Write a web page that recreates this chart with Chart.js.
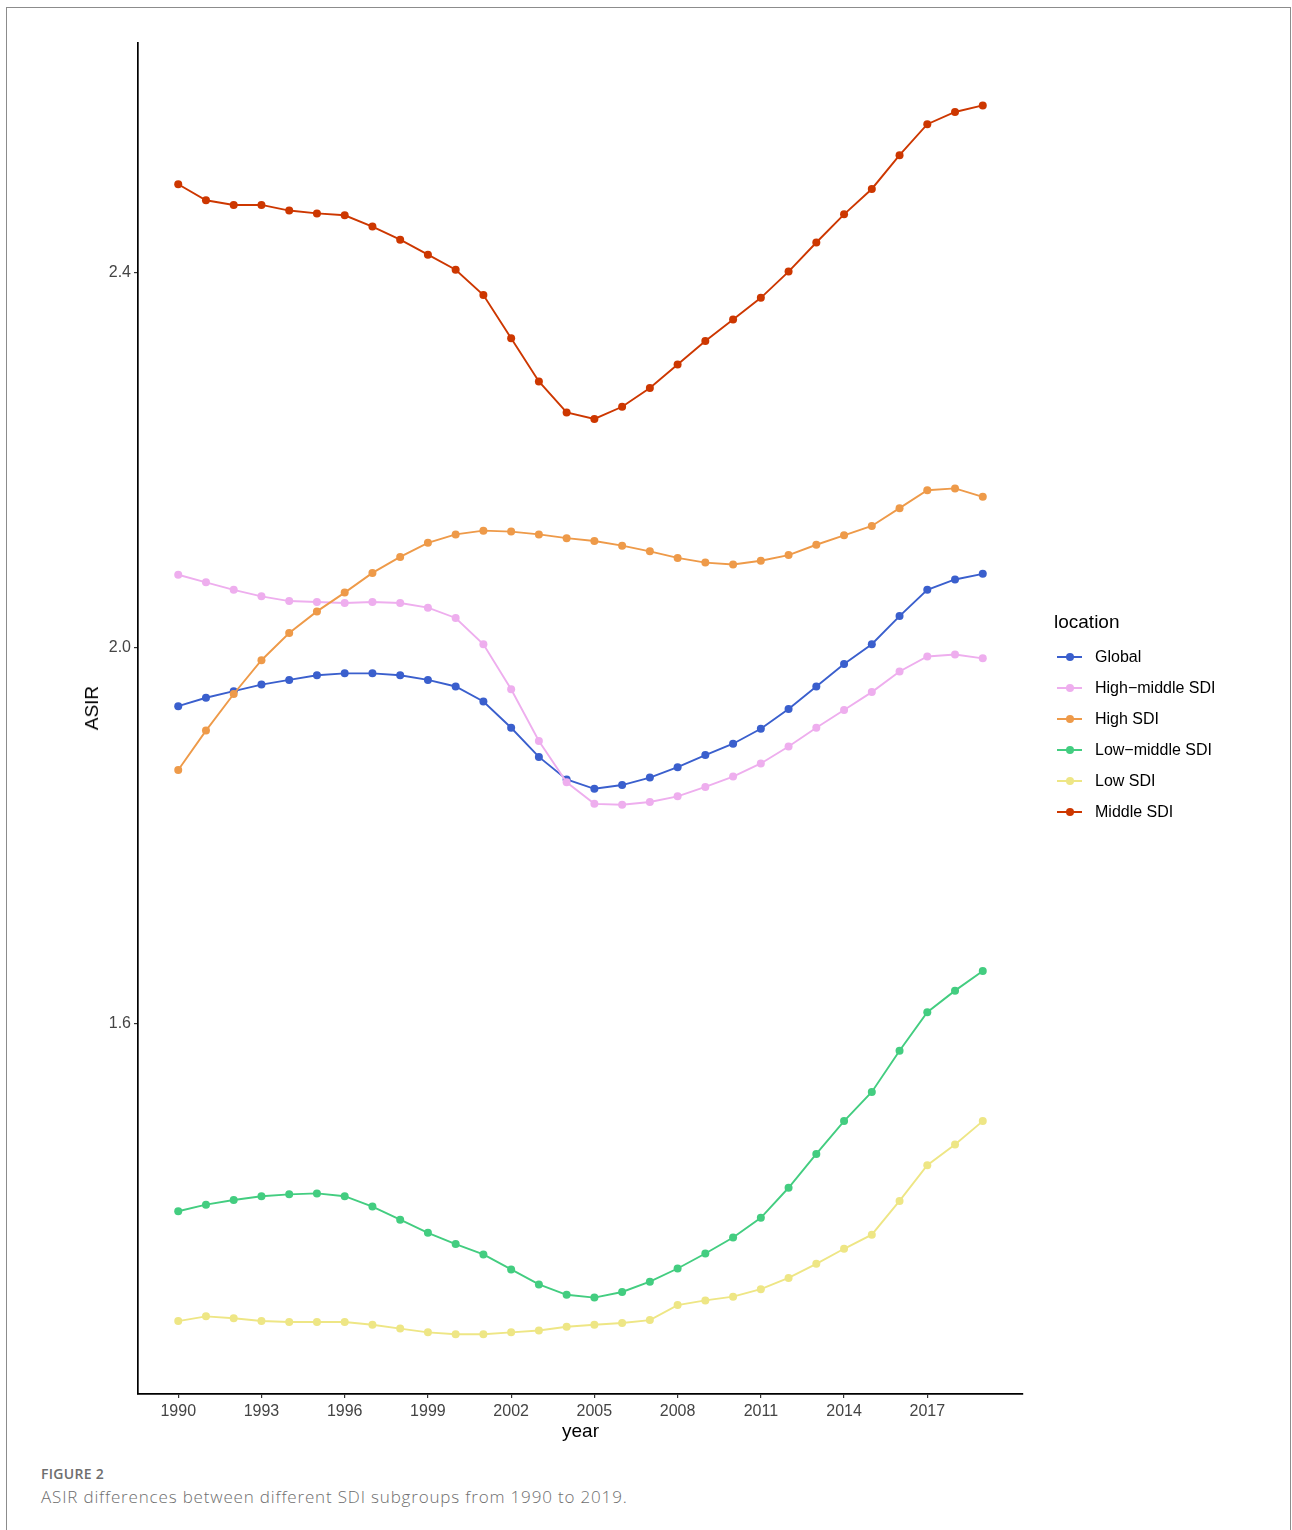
<!DOCTYPE html>
<html>
<head>
<meta charset="utf-8">
<script src="https://cdn.jsdelivr.net/npm/chart.js@4.4.1/dist/chart.umd.min.js"></script>
<style>
  html, body { margin: 0; padding: 0; background: #fff; overflow: hidden; }
  body { width: 1292px; height: 1530px; position: relative; }
  #frame { position: absolute; left: 6px; top: 7px; width: 1283px; height: 1600px; border: 1px solid #8c8c8c; box-sizing: content-box; }
  #chart { position: absolute; left: 0; top: 0; }
  .leg { position: absolute; font-family: "Liberation Sans", Arial, sans-serif; color: #000; white-space: nowrap; }
  .legtitle { font-size: 19px; }
  .legitem { font-size: 16px; height: 20px; line-height: 20px; }
  .legline { position: absolute; width: 25px; height: 2px; }
  .legdot { position: absolute; width: 8px; height: 8px; border-radius: 50%; }
  .cap { position: absolute; left: 41px; font-family: "Open Sans", sans-serif; color: #6e6e6e; white-space: nowrap; }
  #ytitle { position: absolute; left: 92px; top: 708px; transform: translate(-50%, -50%) rotate(-90deg); font-family: "Liberation Sans", Arial, sans-serif; font-size: 19px; color: #000; white-space: nowrap; line-height: 22px; }
</style>
</head>
<body>
<div id="frame"></div>
<canvas id="chart" width="1292" height="1460" style="width:1292px;height:1460px;"></canvas>
<div id="ytitle">ASIR</div>
<div id="legend"></div>
<div class="cap" style="top:1464px;font-size:14px;font-weight:600;letter-spacing:0.3px;">FIGURE 2</div>
<div class="cap" style="top:1485px;font-size:17px;font-weight:300;letter-spacing:0.83px;">ASIR differences between different SDI subgroups from 1990 to 2019.</div>
<script>
const years = [1990,1991,1992,1993,1994,1995,1996,1997,1998,1999,2000,2001,2002,2003,2004,2005,2006,2007,2008,2009,2010,2011,2012,2013,2014,2015,2016,2017,2018,2019];
const xTickYears = [1990,1993,1996,1999,2002,2005,2008,2011,2014,2017];
const yTickValues = [1.6, 2.0, 2.4];
const seriesNames = ["Global", "High\u2212middle SDI", "High SDI", "Low\u2212middle SDI", "Low SDI", "Middle SDI"];
const seriesColors = ["#3A5FCD", "#EEAEEE", "#EE9A49", "#43CD80", "#EEE685", "#CD3700"];

const globalVals = [1.938,1.947,1.954,1.961,1.966,1.971,1.973,1.973,1.971,1.966,1.959,1.943,1.915,1.884,1.860,1.850,1.854,1.862,1.873,1.886,1.898,1.914,1.935,1.959,1.983,2.004,2.034,2.062,2.073,2.079];
const highMiddleVals = [2.078,2.070,2.062,2.055,2.050,2.049,2.048,2.049,2.048,2.043,2.032,2.004,1.956,1.901,1.857,1.834,1.833,1.836,1.842,1.852,1.863,1.877,1.895,1.915,1.934,1.953,1.975,1.991,1.993,1.989];
const highVals = [1.870,1.912,1.951,1.987,2.016,2.039,2.059,2.080,2.097,2.112,2.121,2.125,2.124,2.121,2.117,2.114,2.109,2.103,2.096,2.091,2.089,2.093,2.099,2.110,2.120,2.130,2.149,2.168,2.170,2.161];
const lowMiddleVals = [1.400,1.407,1.412,1.416,1.418,1.419,1.416,1.405,1.391,1.377,1.365,1.354,1.338,1.322,1.311,1.308,1.314,1.325,1.339,1.355,1.372,1.393,1.425,1.461,1.496,1.527,1.571,1.612,1.635,1.656];
const lowVals = [1.283,1.288,1.286,1.283,1.282,1.282,1.282,1.279,1.275,1.271,1.269,1.269,1.271,1.273,1.277,1.279,1.281,1.284,1.300,1.305,1.309,1.317,1.329,1.344,1.360,1.375,1.411,1.449,1.471,1.496];
const middleVals = [2.494,2.477,2.472,2.472,2.466,2.463,2.461,2.449,2.435,2.419,2.403,2.376,2.330,2.284,2.251,2.244,2.257,2.277,2.302,2.327,2.350,2.373,2.401,2.432,2.462,2.489,2.525,2.558,2.571,2.578];

const allSeries = [globalVals, highMiddleVals, highVals, lowMiddleVals, lowVals, middleVals];

const datasets = allSeries.map((vals, i) => ({
  label: seriesNames[i],
  data: years.map((yr, j) => ({ x: yr, y: vals[j] })),
  borderColor: seriesColors[i],
  backgroundColor: seriesColors[i],
  pointBackgroundColor: seriesColors[i],
  pointBorderWidth: 0,
  pointRadius: 4,
  borderWidth: 1.9,
  tension: 0,
  fill: false,
  order: allSeries.length - i
}));

const fontFam = "'Liberation Sans', Arial, sans-serif";

new Chart(document.getElementById('chart'), {
  type: 'line',
  data: { datasets },
  options: {
    responsive: false,
    animation: false,
    devicePixelRatio: 1,
    layout: { padding: { left: 0, top: 43, right: 269, bottom: 16 } },
    plugins: { legend: { display: false }, tooltip: { enabled: false } },
    scales: {
      x: {
        type: 'linear',
        min: 1988.55,
        max: 2020.45,
        afterBuildTicks: (s) => { s.ticks = xTickYears.map(v => ({ value: v })); },
        afterFit: (s) => { s.height = 50; },
        ticks: { color: '#444', font: { family: fontFam, size: 16 }, padding: 4, autoSkip: false, maxRotation: 0, callback: (v) => String(v) },
        grid: { drawOnChartArea: false, drawTicks: true, tickLength: 4, color: '#333', lineWidth: 1.2 },
        border: { display: true, color: '#000', width: 1.7 },
        title: { display: true, text: 'year', color: '#000', font: { family: fontFam, size: 19 }, padding: { top: 0, bottom: 1 } }
      },
      y: {
        type: 'linear',
        min: 1.2053,
        max: 2.6445,
        afterBuildTicks: (s) => { s.ticks = yTickValues.map(v => ({ value: v })); },
        afterFit: (s) => { s.width = 138; },
        ticks: { color: '#444', font: { family: fontFam, size: 16 }, padding: 3, callback: (v) => Number(v).toFixed(1) },
        grid: { drawOnChartArea: false, drawTicks: true, tickLength: 4, color: '#333', lineWidth: 1.2 },
        border: { display: true, color: '#000', width: 1.7 },
        title: { display: false }
      }
    }
  }
});

// HTML legend (ggplot-style: line with point)
const legend = document.getElementById('legend');
const t = document.createElement('div');
t.className = 'leg legtitle';
t.style.left = '1054px';
t.style.top = '611px';
t.textContent = 'location';
legend.appendChild(t);
seriesNames.forEach((name, i) => {
  const cy = 656.5 + i * 31;
  const ln = document.createElement('div');
  ln.className = 'legline';
  ln.style.left = '1057px'; ln.style.top = (cy - 1) + 'px';
  ln.style.background = seriesColors[i];
  legend.appendChild(ln);
  const dot = document.createElement('div');
  dot.className = 'legdot';
  dot.style.left = '1065.5px'; dot.style.top = (cy - 4) + 'px';
  dot.style.background = seriesColors[i];
  legend.appendChild(dot);
  const tx = document.createElement('div');
  tx.className = 'leg legitem';
  tx.style.left = '1095px'; tx.style.top = (cy - 10) + 'px';
  tx.textContent = name;
  legend.appendChild(tx);
});
</script>
</body>
</html>
